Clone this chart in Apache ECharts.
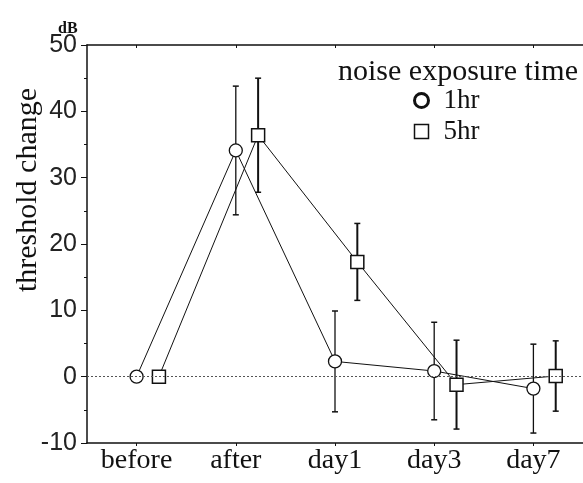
<!DOCTYPE html>
<html>
<head>
<meta charset="utf-8">
<script src="https://cdn.jsdelivr.net/npm/echarts@6/dist/echarts.min.js"></script>
<style>
  html, body { margin: 0; padding: 0; background: #fff; }
  #chart { width: 583px; height: 483px; }
</style>
</head>
<body>
<div id="chart"></div>
<script>
// Threshold change (dB) after noise exposure, mean ± SD per time point
const categories = ['before', 'after', 'day1', 'day3', 'day7'];
const yTicks = [-10, 0, 10, 20, 30, 40, 50];

const mean1hr = [0, 34.1, 2.3, 0.85, -1.8];
const sd1hr   = [0, 9.7, 7.6, 7.35, 6.7];

const mean5hr = [0, 36.4, 17.3, -1.2, 0.1];
const sd5hr   = [0, 8.6, 5.8, 6.7, 5.3];

// the 5hr group is drawn slightly to the right of each category
const SHIFT_5HR = 0.225;

const serif = '"Liberation Serif", "Times New Roman", serif';
const sans = '"Liberation Sans", Arial, sans-serif';

function points(means, shift) {
  return means.map((v, i) => [i + shift, v]);
}
function bars(means, sds, shift) {
  return means.map((v, i) => [i + shift, v - sds[i], v + sds[i]]).filter(d => d[2] > d[1]);
}
function errorBarRenderer(lineWidth) {
  return function (params, api) {
    const x = api.value(0);
    const lo = api.coord([x, api.value(1)]);
    const hi = api.coord([x, api.value(2)]);
    const cap = 3;
    const style = { stroke: '#111', lineWidth: lineWidth };
    return {
      type: 'group',
      children: [
        { type: 'line', shape: { x1: lo[0], y1: lo[1], x2: hi[0], y2: hi[1] }, style: style },
        { type: 'line', shape: { x1: hi[0] - cap, y1: hi[1], x2: hi[0] + cap, y2: hi[1] }, style: { stroke: '#111', lineWidth: 1.5 } },
        { type: 'line', shape: { x1: lo[0] - cap, y1: lo[1], x2: lo[0] + cap, y2: lo[1] }, style: { stroke: '#111', lineWidth: 1.5 } }
      ]
    };
  };
}

const chart = echarts.init(document.getElementById('chart'), null, { renderer: 'canvas' });

const catPositions = categories.map((c, i) => i);

chart.setOption({
  animation: false,
  backgroundColor: '#fff',
  title: [
    {
      text: 'dB', left: 53, top: 16,
      textStyle: { fontFamily: serif, fontSize: 16, fontWeight: 'bold', color: '#111' }
    },
    {
      text: 'noise exposure time', left: 333, top: 52,
      textStyle: { fontFamily: serif, fontSize: 30, fontWeight: 'normal', color: '#111' }
    }
  ],
  graphic: [
    {
      type: 'text', x: 28, y: 190, rotation: Math.PI / 2,
      style: {
        text: 'threshold change', fontFamily: serif, fontSize: 30, fill: '#111',
        textAlign: 'center', textVerticalAlign: 'middle'
      }
    }
  ],
  legend: {
    orient: 'vertical',
    left: 413, top: 87, padding: 0,
    itemWidth: 14, itemHeight: 14, itemGap: 4,
    textStyle: { fontFamily: serif, fontSize: 27, color: '#111', padding: [0, 0, 0, 10] },
    data: [
      { name: '1hr', icon: 'circle', itemStyle: { color: '#fff', borderColor: '#111', borderWidth: 3 } },
      { name: '5hr', icon: 'rect', itemStyle: { color: '#fff', borderColor: '#111', borderWidth: 1.5 } }
    ]
  },
  grid: { left: 87, right: -4, top: 45, bottom: 40, containLabel: false },
  xAxis: [
    {
      type: 'value', position: 'bottom', min: -0.5, max: 4.5,
      splitLine: { show: false },
      axisLine: { show: true, onZero: false, lineStyle: { color: '#111', width: 1.5 } },
      axisTick: { show: true, customValues: catPositions, length: 3, lineStyle: { color: '#111' } },
      axisLabel: {
        show: true, customValues: catPositions, margin: 4,
        formatter: v => categories[Math.round(v)],
        fontFamily: serif, fontSize: 28, color: '#111'
      }
    },
    {
      type: 'value', position: 'top', min: -0.5, max: 4.5,
      splitLine: { show: false },
      axisLine: { show: true, onZero: false, lineStyle: { color: '#111', width: 1.5 } },
      axisTick: { show: true, inside: true, customValues: catPositions, length: 3, lineStyle: { color: '#111' } },
      axisLabel: { show: false }
    }
  ],
  yAxis: {
    type: 'value', min: yTicks[0], max: yTicks[yTicks.length - 1], interval: 10,
    splitLine: { show: false },
    axisLine: { show: true, onZero: false, lineStyle: { color: '#111', width: 1.5 } },
    axisTick: { show: true, length: 6, lineStyle: { color: '#111' } },
    minorTick: { show: true, splitNumber: 2, length: 3, lineStyle: { color: '#111' } },
    axisLabel: { margin: 10, fontFamily: sans, fontSize: 25, color: '#222' }
  },
  series: [
    {
      name: '1hr err', type: 'custom', z: 1,
      renderItem: errorBarRenderer(1.3),
      encode: { x: 0, y: [1, 2] },
      data: bars(mean1hr, sd1hr, 0)
    },
    {
      name: '5hr err', type: 'custom', z: 1,
      renderItem: errorBarRenderer(2),
      encode: { x: 0, y: [1, 2] },
      data: bars(mean5hr, sd5hr, SHIFT_5HR)
    },
    {
      name: '1hr', type: 'line', z: 3,
      data: points(mean1hr, 0),
      symbol: 'circle', symbolSize: 13, showAllSymbol: true,
      lineStyle: { color: '#111', width: 1 },
      itemStyle: { color: '#fff', borderColor: '#111', borderWidth: 1.3 },
      markLine: {
        silent: true, symbol: ['none', 'none'], label: { show: false },
        lineStyle: { color: '#555', width: 1, type: [2, 2] },
        data: [{ yAxis: 0 }]
      }
    },
    {
      name: '5hr', type: 'line', z: 4,
      data: points(mean5hr, SHIFT_5HR),
      symbol: 'rect', symbolSize: 13, showAllSymbol: true,
      lineStyle: { color: '#111', width: 1 },
      itemStyle: { color: '#fff', borderColor: '#111', borderWidth: 1.5 }
    }
  ]
});
</script>
</body>
</html>
